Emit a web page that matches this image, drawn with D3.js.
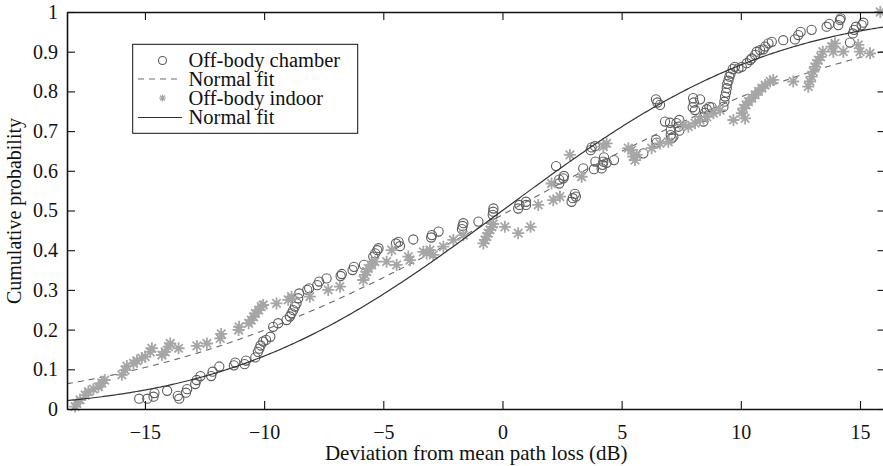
<!DOCTYPE html>
<html>
<head>
<meta charset="utf-8">
<script src="https://cdn.jsdelivr.net/npm/d3@7"></script>
<style>
  html, body { margin: 0; padding: 0; background: #fff; }
</style>
</head>
<body>
<svg id="chart" width="883" height="466"></svg>
<script>
// ---------------- data ----------------
const xTicks = [-15, -10, -5, 0, 5, 10, 15];
const yTicks = [0, 0.1, 0.2, 0.3, 0.4, 0.5, 0.6, 0.7, 0.8, 0.9, 1];
const xDomain = [-18.27, 16.07];
const yDomain = [0, 1];

const chamberX = [-15.24,-14.9,-14.64,-14.6,-14.07,-13.62,-13.56,-13.28,-13.23,-12.89,-12.83,-12.67,-12.22,-12.16,-11.88,-11.27,-11.21,-10.82,-10.76,-10.37,-10.26,-10.2,-10.15,-10.04,-9.92,-9.74,-9.62,-9.41,-9.06,-8.92,-8.85,-8.78,-8.71,-8.64,-8.57,-8.53,-8.19,-8.11,-7.77,-7.69,-7.38,-6.79,-6.74,-6.29,-6.23,-5.81,-5.42,-5.34,-5.25,-5.2,-4.47,-4.36,-4.3,-3.74,-2.99,-2.96,-2.68,-1.7,-1.67,-1.64,-1.01,-0.41,-0.39,-0.38,0.66,0.71,0.99,0.99,2.25,2.38,2.38,2.55,2.58,2.9,2.95,3.08,3.04,3.39,3.7,3.74,3.88,3.84,3.9,4.16,4.2,4.23,4.26,4.37,4.68,5.91,6.44,6.47,6.44,6.5,6.61,6.82,7.03,7.06,7.06,7.1,7.17,7.3,7.42,7.38,7.42,7.98,8.0,8.03,8.08,8.29,8.43,8.43,8.5,8.57,8.68,8.78,9.27,9.31,9.34,9.38,9.41,9.43,9.48,9.52,9.57,9.66,9.75,9.9,10.04,10.25,10.39,10.46,10.6,10.67,10.81,10.95,11.02,11.16,11.3,11.78,12.27,12.41,12.51,12.97,13.6,13.71,14.09,14.16,14.19,14.58,14.7,14.75,14.83,15.07,15.14];
const chamberY = [0.026,0.026,0.031,0.040,0.046,0.033,0.026,0.041,0.050,0.063,0.073,0.083,0.083,0.094,0.107,0.110,0.117,0.113,0.122,0.130,0.144,0.152,0.160,0.170,0.174,0.182,0.207,0.216,0.224,0.233,0.241,0.249,0.258,0.266,0.279,0.291,0.300,0.304,0.312,0.321,0.329,0.335,0.340,0.350,0.358,0.363,0.384,0.392,0.400,0.405,0.417,0.421,0.410,0.427,0.432,0.438,0.447,0.453,0.461,0.468,0.472,0.489,0.497,0.505,0.505,0.514,0.514,0.522,0.612,0.568,0.578,0.581,0.587,0.522,0.531,0.535,0.542,0.606,0.652,0.659,0.662,0.604,0.623,0.606,0.615,0.623,0.634,0.620,0.627,0.644,0.678,0.671,0.780,0.772,0.766,0.724,0.721,0.703,0.690,0.682,0.686,0.720,0.728,0.711,0.701,0.760,0.783,0.772,0.753,0.780,0.724,0.736,0.746,0.755,0.761,0.760,0.761,0.774,0.787,0.797,0.808,0.819,0.827,0.837,0.845,0.856,0.862,0.858,0.862,0.871,0.879,0.883,0.892,0.900,0.904,0.906,0.913,0.921,0.925,0.929,0.931,0.942,0.950,0.955,0.963,0.970,0.967,0.980,0.984,0.923,0.946,0.955,0.963,0.967,0.973];

const indoorX = [-17.93,-17.86,-17.72,-17.51,-17.37,-17.16,-16.95,-16.81,-16.69,-15.97,-15.83,-15.76,-15.48,-15.34,-15.13,-14.99,-14.78,-14.71,-14.29,-14.15,-14.01,-13.94,-13.59,-12.82,-12.4,-11.84,-11.8,-11.07,-11.05,-10.65,-10.54,-10.44,-10.37,-10.23,-10.12,-10.04,-9.48,-8.99,-8.85,-8.08,-7.31,-6.82,-5.84,-5.77,-5.7,-5.63,-5.49,-5.35,-4.86,-4.65,-4.44,-3.95,-3.88,-3.32,-3.18,-3.04,-2.9,-2.48,-2.06,-1.64,-0.8,-0.73,-0.66,-0.6,-0.52,-0.45,-0.39,0.1,0.66,1.18,1.5,2.06,2.13,2.41,2.83,3.32,4.23,4.37,5.28,5.42,5.49,5.56,5.63,6.26,6.61,6.96,7.59,7.8,8.08,8.29,8.57,8.85,9.13,9.69,10.04,10.11,10.18,10.22,10.32,10.46,10.6,10.74,10.88,11.02,11.23,11.36,12.2,12.83,12.9,12.97,13.04,13.11,13.18,13.25,13.35,13.44,13.81,13.88,13.95,14.3,14.93,15.0,15.42,15.85];
const indoorY = [0.006,0.014,0.023,0.035,0.044,0.050,0.056,0.065,0.073,0.086,0.098,0.108,0.115,0.122,0.128,0.132,0.144,0.153,0.136,0.144,0.157,0.165,0.153,0.159,0.165,0.178,0.189,0.199,0.207,0.216,0.224,0.232,0.241,0.249,0.258,0.262,0.266,0.275,0.283,0.283,0.300,0.308,0.325,0.338,0.346,0.354,0.363,0.371,0.371,0.400,0.363,0.384,0.375,0.396,0.392,0.400,0.388,0.409,0.426,0.438,0.417,0.426,0.434,0.443,0.451,0.459,0.466,0.459,0.443,0.459,0.514,0.568,0.526,0.535,0.640,0.585,0.661,0.669,0.657,0.652,0.636,0.627,0.640,0.657,0.669,0.673,0.715,0.711,0.720,0.728,0.736,0.745,0.753,0.728,0.745,0.757,0.732,0.766,0.774,0.783,0.791,0.800,0.808,0.816,0.825,0.829,0.825,0.812,0.825,0.837,0.850,0.862,0.870,0.879,0.887,0.900,0.913,0.900,0.921,0.900,0.917,0.900,0.896,1.000];

// normal-fit parameters (mean, std)
const dashedFit = { mu: 0.33, sigma: 12.2 };
const solidFit = { mu: 0.0, sigma: 9.0 };

const legendLabels = ["Off-body chamber", "Normal fit", "Off-body indoor", "Normal fit"];
const xLabel = "Deviation from mean path loss (dB)";
const yLabel = "Cumulative probability";

// ---------------- layout ----------------
const L = 67, R = 885.5, T = 12, B = 409;
const FONT = '"Liberation Serif", Tinos, "Times New Roman"';
const svg = d3.select("#chart");
const x = d3.scaleLinear().domain(xDomain).range([L, R]);
const y = d3.scaleLinear().domain(yDomain).range([B, T]);

function erf(v) {
  const s = v < 0 ? -1 : 1; v = Math.abs(v);
  const t = 1 / (1 + 0.3275911 * v);
  const yv = 1 - (((((1.061405429 * t - 1.453152027) * t) + 1.421413741) * t - 0.284496736) * t + 0.254829592) * t * Math.exp(-v * v);
  return s * yv;
}
const ncdf = (v, p) => 0.5 * (1 + erf((v - p.mu) / (p.sigma * Math.SQRT2)));

// ---------------- marks ----------------
const chamber = chamberX.map((v, i) => [v, chamberY[i]]);
const indoor = indoorX.map((v, i) => [v, indoorY[i]]);
const curveXs = d3.range(0, 401).map(i => xDomain[0] + (xDomain[1] - xDomain[0]) * i / 400);
const line = d3.line().x(d => x(d[0])).y(d => y(d[1]));

const circleColor = "#5a5a5a";
const starColor = "#a6a6a6";

function starPath(r) {
  const d = r * Math.SQRT1_2;
  return `M${-r},0L${r},0M0,${-r}L0,${r}M${-d},${-d}L${d},${d}M${-d},${d}L${d},${-d}`;
}

svg.append("g").selectAll("circle").data(chamber).join("circle")
  .attr("cx", d => x(d[0])).attr("cy", d => y(d[1])).attr("r", 4.6)
  .attr("fill", "none").attr("stroke", circleColor).attr("stroke-width", 1.1);

svg.append("path").datum(curveXs.map(v => [v, ncdf(v, dashedFit)]))
  .attr("d", line).attr("fill", "none").attr("stroke", "#6a6a6a")
  .attr("stroke-width", 1.1).attr("stroke-dasharray", "6,5");

svg.append("g").selectAll("path").data(indoor).join("path")
  .attr("transform", d => `translate(${x(d[0])},${y(d[1])})`)
  .attr("d", starPath(6)).attr("fill", "none")
  .attr("stroke", starColor).attr("stroke-width", 1.8);

svg.append("path").datum(curveXs.map(v => [v, ncdf(v, solidFit)]))
  .attr("d", line).attr("fill", "none").attr("stroke", "#333")
  .attr("stroke-width", 1.2);

// ---------------- axes ----------------
function styleAxis(g) {
  g.selectAll(".domain").attr("stroke", "#111").attr("stroke-width", 1.6);
  g.selectAll(".tick line").attr("stroke", "#111").attr("stroke-width", 1.1);
  g.selectAll(".tick text").attr("fill", "#111")
    .style("font-family", FONT).style("font-size", "20px");
}
svg.append("g").attr("transform", `translate(0,${B})`)
  .call(d3.axisBottom(x).tickValues(xTicks).tickSize(-8).tickSizeOuter(0).tickPadding(16))
  .call(styleAxis);
svg.append("g").attr("transform", `translate(0,${T})`)
  .call(d3.axisTop(x).tickValues(xTicks).tickSize(-8).tickSizeOuter(0).tickFormat(""))
  .call(styleAxis);
svg.append("g").attr("transform", `translate(${L},0)`)
  .call(d3.axisLeft(y).tickValues(yTicks).tickSize(-8).tickSizeOuter(0).tickPadding(9)
    .tickFormat(d => (d === 0 || d === 1) ? String(d) : d.toFixed(1)))
  .call(styleAxis);
svg.append("g").attr("transform", `translate(${R},0)`)
  .call(d3.axisRight(y).tickValues(yTicks).tickSize(-8).tickSizeOuter(0).tickFormat(""))
  .call(styleAxis);

svg.append("text").attr("x", (L + R) / 2).attr("y", 460)
  .attr("text-anchor", "middle").style("font-family", FONT).style("font-size", "21px").attr("fill", "#111")
  .text(xLabel);
svg.append("text").attr("transform", "translate(21,211) rotate(-90)")
  .attr("text-anchor", "middle").style("font-family", FONT).style("font-size", "20px").attr("fill", "#111")
  .text(yLabel);

// ---------------- legend ----------------
const lg = svg.append("g");
lg.append("rect").attr("x", 132.7).attr("y", 44.3).attr("width", 225).attr("height", 89)
  .attr("fill", "#fff").attr("stroke", "#111").attr("stroke-width", 1);
const rows = [60.5, 79, 98, 117.5];
lg.append("circle").attr("cx", 162.5).attr("cy", rows[0]).attr("r", 4)
  .attr("fill", "none").attr("stroke", circleColor).attr("stroke-width", 1.1);
lg.append("line").attr("x1", 138).attr("x2", 182).attr("y1", rows[1]).attr("y2", rows[1])
  .attr("stroke", "#6a6a6a").attr("stroke-width", 1.1).attr("stroke-dasharray", "6,5");
lg.append("path").attr("transform", `translate(162.5,${rows[2]})`).attr("d", starPath(3.5))
  .attr("fill", "none").attr("stroke", starColor).attr("stroke-width", 1.2);
lg.append("line").attr("x1", 138).attr("x2", 182).attr("y1", rows[3]).attr("y2", rows[3])
  .attr("stroke", "#333").attr("stroke-width", 1.2);
lg.selectAll("text.lab").data(legendLabels).join("text").attr("class", "lab")
  .attr("x", 188.5).attr("y", (d, i) => rows[i] + 6.5)
  .style("font-family", FONT).style("font-size", "20.5px").attr("fill", "#111").text(d => d);
</script>
</body>
</html>
